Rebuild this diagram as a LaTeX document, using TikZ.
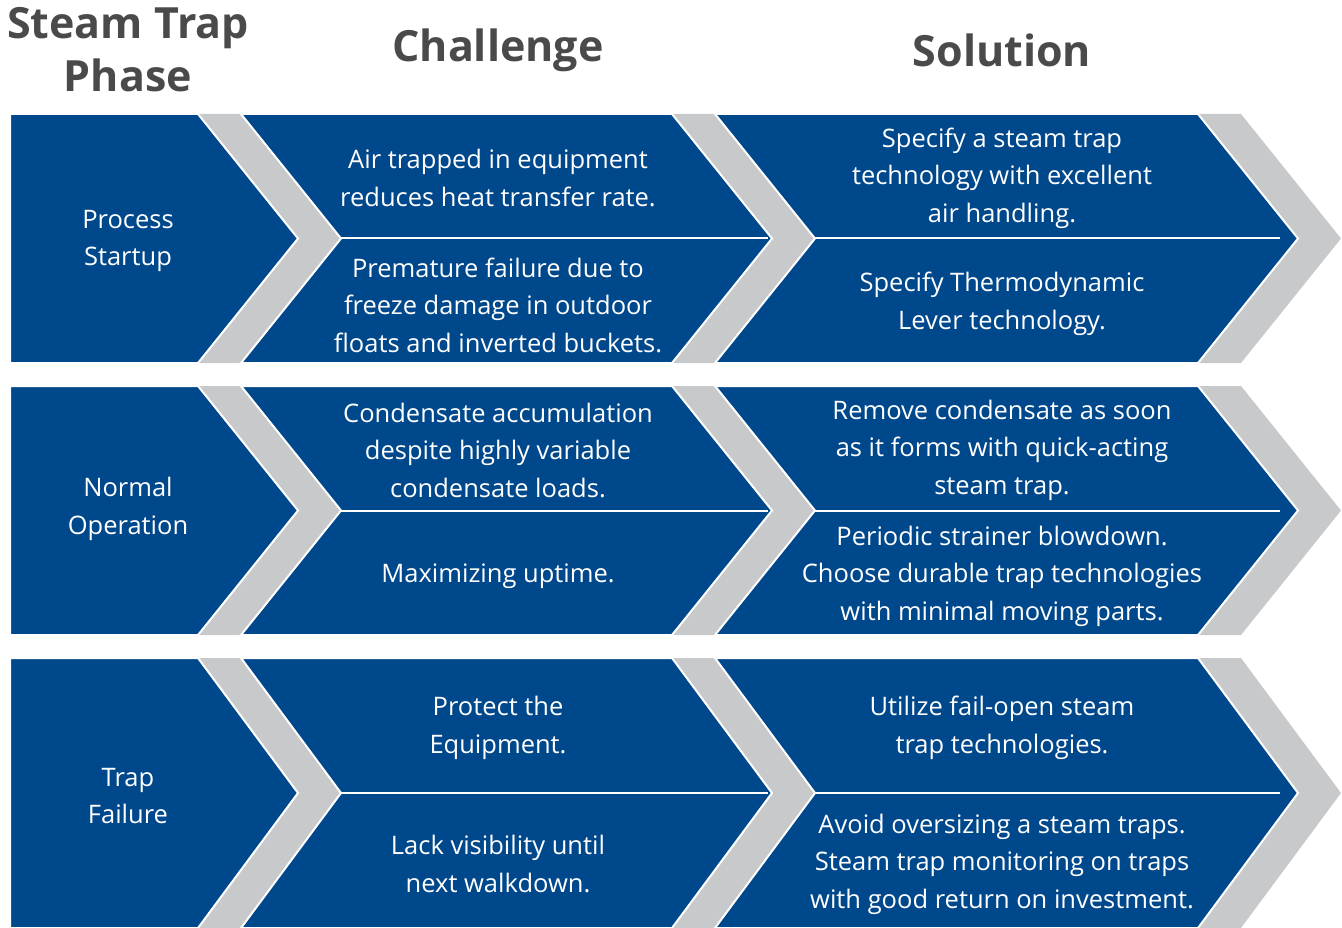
\documentclass[tikz,border=0pt]{standalone}
\usepackage{fontspec}
\setmainfont{Open Sans}
\definecolor{tblue}{RGB}{0,72,140}
\definecolor{tgray}{RGB}{200,201,203}
\definecolor{thead}{RGB}{74,74,74}
\begin{document}
\begin{tikzpicture}[x=1pt,y=-1pt,
  bluecell/.style={fill=tblue, draw=white, line width=2pt, line join=miter},
  band/.style={fill=tgray},
  midline/.style={draw=white, line width=2pt},
  cell/.style={text=white, font=\fontsize{25.5}{37.5}\selectfont, align=center, inner sep=0pt},
  head/.style={text=thead, font=\fontsize{43}{53}\selectfont\bfseries, align=center, inner sep=0pt}]
\useasboundingbox (0,0) rectangle (1342,928);
\def\xa{198}\def\g{43}\def\xb{672}\def\xc{1198}\def\d{100}
\foreach \T/\B in {114/363,386/635,658/928}{
  \pgfmathsetmacro{\M}{(\T+\B)/2}
  % gray bands
  \fill[band] (\xa,\T) -- (\xa+\g,\T) -- (\xa+\g+\d,\M) -- (\xa+\g,\B) -- (\xa,\B) -- (\xa+\d,\M) -- cycle;
  \fill[band] (\xb,\T) -- (\xb+\g,\T) -- (\xb+\g+\d,\M) -- (\xb+\g,\B) -- (\xb,\B) -- (\xb+\d,\M) -- cycle;
  \fill[band] (\xc,\T) -- (\xc+\g,\T) -- (\xc+\g+\d,\M) -- (\xc+\g,\B) -- (\xc,\B) -- (\xc+\d,\M) -- cycle;
  % blue shapes
  \filldraw[bluecell] (10,\T) -- (\xa,\T) -- (\xa+\d,\M) -- (\xa,\B) -- (10,\B) -- cycle;
  \filldraw[bluecell] (\xa+\g,\T) -- (\xb,\T) -- (\xb+\d,\M) -- (\xb,\B) -- (\xa+\g,\B) -- (\xa+\g+\d,\M) -- cycle;
  \filldraw[bluecell] (\xb+\g,\T) -- (\xc,\T) -- (\xc+\d,\M) -- (\xc,\B) -- (\xb+\g,\B) -- (\xb+\g+\d,\M) -- cycle;
  % midlines
  \draw[midline] (\xa+\g+\d,\M) coordinate (ml\T) -- (\xb+\d-4,\M) coordinate (mr\T);
  \draw[midline] (\xb+\g+\d,\M) coordinate (sl\T) -- (\xc+\d-18,\M) coordinate (sr\T);
}
% headers
\node[head] (hphase) at (128,50) {Steam Trap\\Phase};
\node[head] (hchal) at (498,50) {Challenge};
\node[head] (hsol) at (1002,50) {Solution};
% phases
\node[cell] (p1) at (128,241) {Process\\Startup};
\node[cell] (p2) at (128,509) {Normal\\Operation};
\node[cell] (p3) at (128,796) {Trap\\Failure};
% challenges
\node[cell] (c1a) at (498,178) {Air trapped in equipment\\reduces heat transfer rate.};
\node[cell] (c1b) at (498,305) {Premature failure due to\\freeze damage in outdoor\\floats and inverted buckets.};
\node[cell] (c2a) at (498,450) {Condensate accumulation\\despite highly variable\\condensate loads.};
\node[cell] (c2b) at (498,576) {Maximizing uptime.};
\node[cell] (c3a) at (498,728) {Protect the\\Equipment.};
\node[cell] (c3b) at (498,864) {Lack visibility until\\next walkdown.};
% solutions
\node[cell] (s1a) at (1002,178) {Specify a steam trap\\technology with excellent\\air handling.};
\node[cell] (s1b) at (1002,304) {Specify Thermodynamic\\Lever technology.};
\node[cell] (s2a) at (1002,450) {Remove condensate as soon\\as it forms with quick-acting\\steam trap.};
\node[cell] (s2b) at (1002,576) {Periodic strainer blowdown.\\Choose durable trap technologies\\with minimal moving parts.};
\node[cell] (s3a) at (1002,728) {Utilize fail-open steam\\trap technologies.};
\node[cell] (s3b) at (1002,864) {Avoid oversizing a steam traps.\\Steam trap monitoring on traps\\with good return on investment.};
\end{tikzpicture}
\end{document}
